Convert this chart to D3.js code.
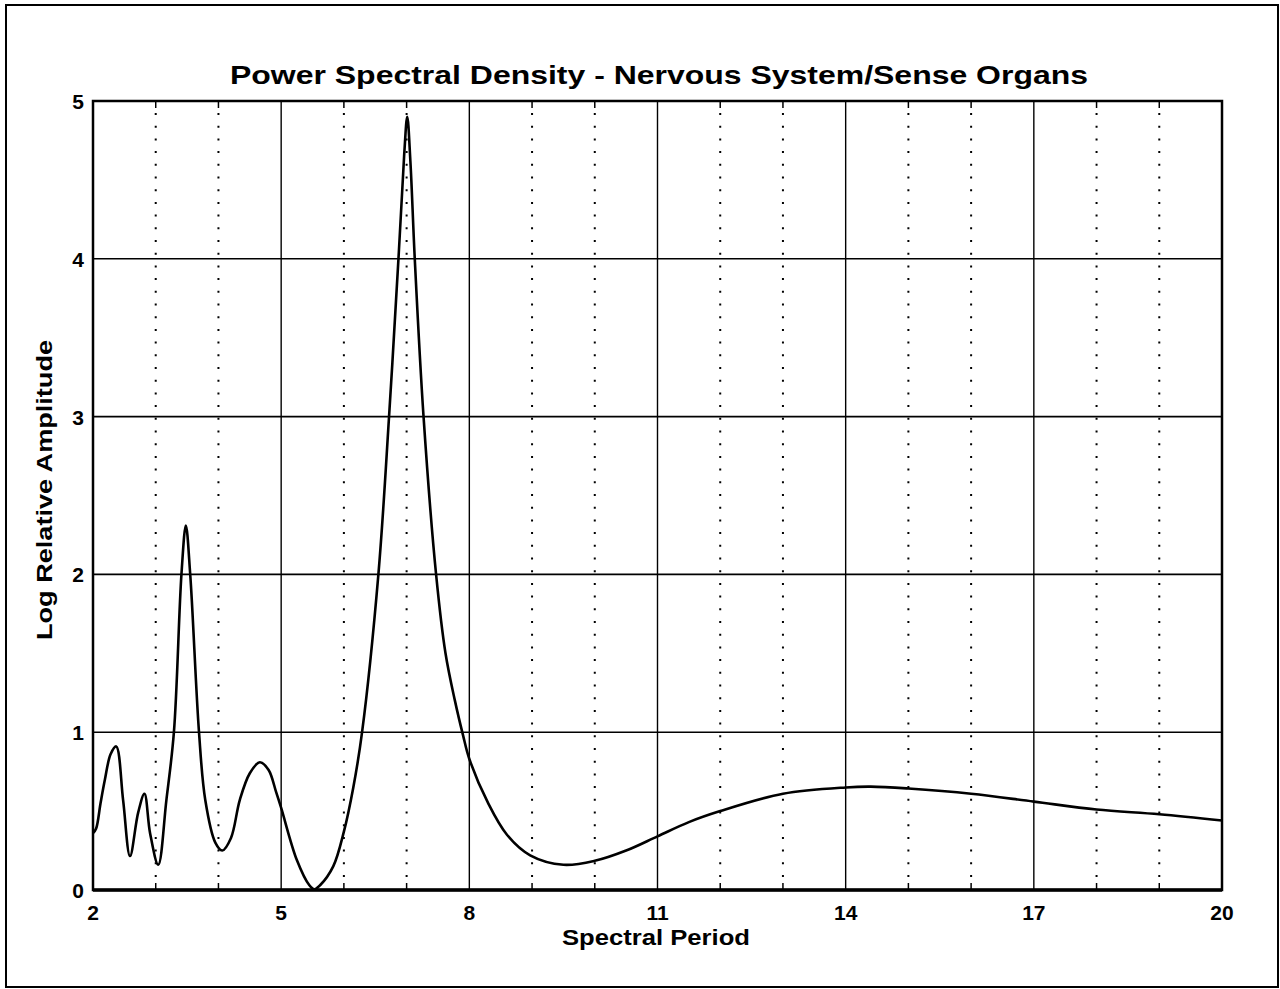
<!DOCTYPE html>
<html>
<head>
<meta charset="utf-8">
<script src="https://cdn.jsdelivr.net/npm/d3@7"></script>
<style>
  html, body { margin: 0; padding: 0; background: #fff; }
  svg { display: block; }
  text { font-family: "Liberation Sans", Arial, Helvetica, sans-serif; fill: #000; }
</style>
</head>
<body>
<svg id="chart" width="1280" height="989"></svg>
<script>
// ---- data ----
const titleText = "Power Spectral Density - Nervous System/Sense Organs";
const xLabel = "Spectral Period";
const yLabel = "Log Relative Amplitude";
const xMajorTicks = [2, 5, 8, 11, 14, 17, 20];
const xMinorTicks = [3, 4, 6, 7, 9, 10, 12, 13, 15, 16, 18, 19];
const yTicks = [0, 1, 2, 3, 4, 5];
const periods = [2.0, 2.05, 2.12, 2.19, 2.28, 2.37, 2.48, 2.59, 2.72, 2.82, 2.91, 3.04,
  3.17, 3.29, 3.41, 3.48, 3.55, 3.69, 3.79, 3.95, 4.06, 4.2, 4.34, 4.5, 4.66, 4.8, 4.92,
  5.0, 5.25, 5.45, 5.53, 5.62, 5.83, 6.0, 6.15, 6.29, 6.55, 6.72, 6.87, 6.96, 7.01, 7.06,
  7.13, 7.27, 7.47, 7.62, 7.77, 7.9, 8.0, 8.3, 8.6, 8.97, 9.5, 10.0, 10.5, 11, 11.5, 12, 13,
  14, 14.4, 15, 16, 17, 18, 19, 20];
const amplitudes = [0.36, 0.39, 0.55, 0.70, 0.86, 0.91, 0.57, 0.215, 0.49, 0.61, 0.36, 0.16,
  0.57, 1.0, 2.0, 2.31, 2.0, 1.0, 0.57, 0.30, 0.25, 0.33, 0.57, 0.74, 0.81, 0.76, 0.62,
  0.52, 0.19, 0.03, 0.005, 0.03, 0.15, 0.37, 0.65, 1.0, 2.0, 3.0, 4.0, 4.65, 4.9, 4.62,
  4.0, 3.0, 2.0, 1.5, 1.2, 0.98, 0.83, 0.55, 0.35, 0.22, 0.16, 0.185, 0.25, 0.34, 0.43, 0.50, 0.61,
  0.65, 0.655, 0.643, 0.61, 0.56, 0.51, 0.48, 0.44];

// ---- layout ----
const svg = d3.select("#chart");
const mLeft = 93, mRight = 1222, mTop = 101, mBottom = 890;
const x = d3.scaleLinear().domain([2, 20]).range([mLeft, mRight]);
const y = d3.scaleLinear().domain([0, 5]).range([mBottom, mTop]);

// outer frame
svg.append("rect").attr("x", 6).attr("y", 5).attr("width", 1272).attr("height", 982)
  .attr("fill", "none").attr("stroke", "#000").attr("stroke-width", 2);

// dotted minor gridlines
svg.append("g").selectAll("line").data(xMinorTicks).join("line")
  .attr("x1", d => x(d)).attr("x2", d => x(d))
  .attr("y1", mTop + 12).attr("y2", mBottom - 6)
  .attr("stroke", "#000").attr("stroke-width", 2)
  .attr("stroke-dasharray", "2,10.7");

// minor ticks top and bottom
svg.append("g").selectAll("line").data(xMinorTicks).join("line")
  .attr("x1", d => x(d)).attr("x2", d => x(d)).attr("y1", mTop).attr("y2", mTop + 7)
  .attr("stroke", "#000").attr("stroke-width", 1.5);
svg.append("g").selectAll("line").data(xMinorTicks).join("line")
  .attr("x1", d => x(d)).attr("x2", d => x(d)).attr("y1", mBottom).attr("y2", mBottom - 7)
  .attr("stroke", "#000").attr("stroke-width", 1.5);

// solid major gridlines
svg.append("g").selectAll("line").data(xMajorTicks.slice(1, -1)).join("line")
  .attr("x1", d => x(d)).attr("x2", d => x(d)).attr("y1", mTop).attr("y2", mBottom)
  .attr("stroke", "#000").attr("stroke-width", 1.4);
svg.append("g").selectAll("line").data(yTicks.slice(1, -1)).join("line")
  .attr("x1", mLeft).attr("x2", mRight).attr("y1", d => y(d)).attr("y2", d => y(d))
  .attr("stroke", "#000").attr("stroke-width", 1.6);

// plot border
svg.append("rect").attr("x", mLeft).attr("y", mTop).attr("width", mRight - mLeft).attr("height", mBottom - mTop)
  .attr("fill", "none").attr("stroke", "#000").attr("stroke-width", 2.5);
svg.append("line").attr("x1", mLeft).attr("x2", mRight).attr("y1", mBottom).attr("y2", mBottom)
  .attr("stroke", "#000").attr("stroke-width", 3.5);

// curve
const pts = periods.map((p, i) => [p, amplitudes[i]]);
const line = d3.line().x(d => x(d[0])).y(d => y(d[1])).curve(d3.curveCatmullRom.alpha(0.5));
svg.append("path").datum(pts).attr("d", line)
  .attr("fill", "none").attr("stroke", "#000").attr("stroke-width", 2.6)
  .attr("stroke-linejoin", "round");

// tick labels
svg.append("g").selectAll("text").data(xMajorTicks).join("text")
  .attr("x", d => x(d)).attr("y", 920)
  .attr("text-anchor", "middle").attr("font-size", 21).attr("font-weight", "bold")
  .text(d => d);
svg.append("g").selectAll("text").data(yTicks).join("text")
  .attr("x", 84).attr("y", d => y(d) + 8)
  .attr("text-anchor", "end").attr("font-size", 21).attr("font-weight", "bold")
  .text(d => d);

// title
svg.append("text").attr("x", 659).attr("y", 84).attr("text-anchor", "middle")
  .attr("font-size", 26).attr("font-weight", "bold")
  .attr("textLength", 858).attr("lengthAdjust", "spacingAndGlyphs")
  .text(titleText);

// axis labels
svg.append("text").attr("x", 656).attr("y", 945).attr("text-anchor", "middle")
  .attr("font-size", 22).attr("font-weight", "bold")
  .attr("textLength", 188).attr("lengthAdjust", "spacingAndGlyphs")
  .text(xLabel);
svg.append("text").attr("transform", "translate(52,490) rotate(-90)")
  .attr("text-anchor", "middle").attr("font-size", 22).attr("font-weight", "bold")
  .attr("textLength", 300).attr("lengthAdjust", "spacingAndGlyphs")
  .text(yLabel);
</script>
</body>
</html>
